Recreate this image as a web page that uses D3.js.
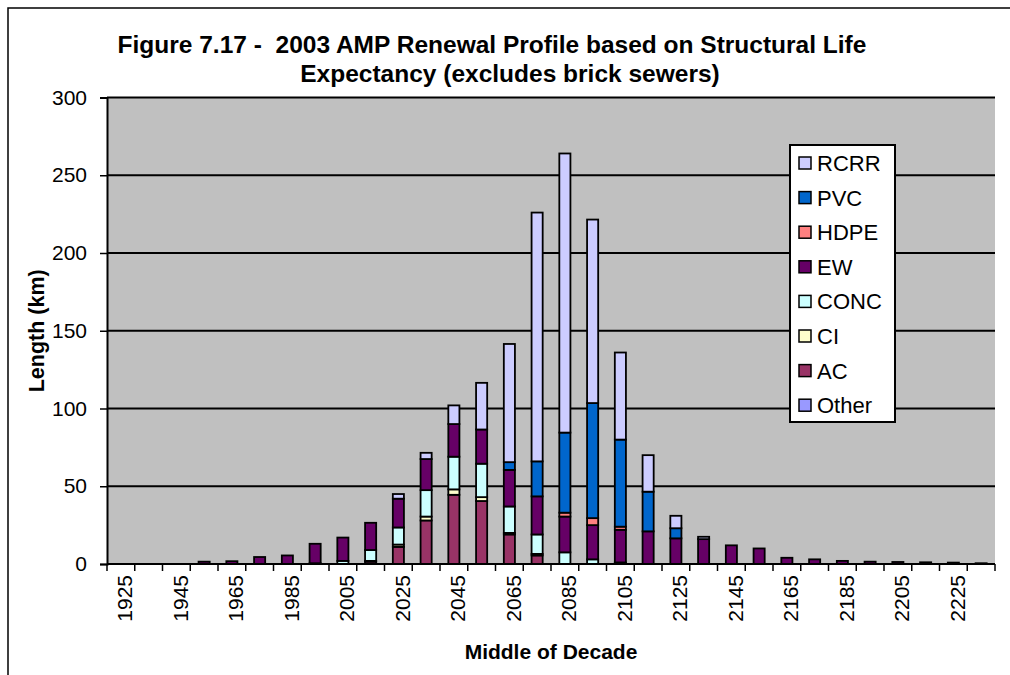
<!DOCTYPE html>
<html>
<head>
<meta charset="utf-8">
<script src="https://cdn.jsdelivr.net/npm/d3@7"></script>
<style>
  body { margin: 0; background: #fff; }
  svg { display: block; font-family: "Liberation Sans", Arial, sans-serif; }
</style>
</head>
<body>
<div id="chart"></div>
<script>
// decades (middle of decade)
const decades = [1925, 1935, 1945, 1955, 1965, 1975, 1985, 1995, 2005, 2015, 2025, 2035, 2045, 2055, 2065, 2075,
                 2085, 2095, 2105, 2115, 2125, 2135, 2145, 2155, 2165, 2175, 2185, 2195, 2205, 2215, 2225, 2235];

// lengths in km
const other = [0, 0, 0, 0, 0, 0, 0, 0, 0, 0, 0, 0, 0, 0, 0, 0, 0, 0, 0, 0, 0, 0, 0, 0, 0, 0, 0, 0, 0, 0, 0, 0];
const ac    = [0, 0, 0, 0, 0, 0, 0, 0.5, 0, 1.5, 11, 28, 44.5, 40.5, 19, 5.5, 0, 0, 0.5, 0, 0, 0, 0, 0, 0, 0, 0, 0, 0, 0, 0, 0];
const ci    = [0, 0, 0, 0, 0, 0, 0, 0, 0, 0.5, 1.5, 2.5, 3.5, 2.5, 1, 1, 0, 0, 0, 0, 0, 0, 0, 0, 0, 0, 0, 0, 0, 0, 0, 0];
const conc  = [0, 0, 0, 0, 0, 0, 0, 0, 2, 7, 11, 17, 21, 21.5, 17, 12.5, 7.5, 3, 0.5, 0, 0, 0, 0, 0, 0, 0, 0, 0, 0, 0, 0, 0];
const ew    = [0, 0, 0, 1.5, 1.8, 4.5, 5.5, 12.5, 15, 17.5, 18.5, 20, 21, 22, 23.5, 24.5, 23, 22, 21, 21, 16.5, 16, 12, 10, 4, 3, 2, 1.5, 1.3, 1.1, 0.9, 0.5];
const hdpe  = [0, 0, 0, 0, 0, 0, 0, 0, 0, 0, 0, 0, 0, 0, 0, 0, 2.5, 4.5, 2, 0, 0, 0, 0, 0, 0, 0, 0, 0, 0, 0, 0, 0];
const pvc   = [0, 0, 0, 0, 0, 0, 0, 0, 0, 0, 0, 0, 0, 0, 5, 22.5, 51.5, 74, 56, 25.5, 6.5, 0, 0, 0, 0, 0, 0, 0, 0, 0, 0, 0];
const rcrr  = [0, 0, 0, 0, 0, 0, 0, 0, 0, 0, 3, 4, 12, 30, 76, 160, 179.5, 118, 56, 23.5, 8, 1.5, 0, 0, 0, 0, 0, 0, 0, 0, 0, 0];

// stacking order, bottom first
const seriesNames = ["Other", "AC", "CI", "CONC", "EW", "HDPE", "PVC", "RCRR"];
const seriesValues = [other, ac, ci, conc, ew, hdpe, pvc, rcrr];
const seriesColors = ["#9999FF", "#993366", "#FFFFCC", "#CCFFFF", "#660066", "#FF8080", "#0066CC", "#CCCCFF"];

const yTicks = [0, 50, 100, 150, 200, 250, 300];

const width = 1010, height = 675;
const plot = { left: 107, right: 995, top: 97.5, bottom: 564 };

const svg = d3.select("#chart").append("svg")
    .attr("width", width)
    .attr("height", height);

// outer frame (right and bottom edges fall outside the picture)
svg.append("rect")
    .attr("x", 8).attr("y", 8)
    .attr("width", 1020).attr("height", 700)
    .attr("fill", "#fff")
    .attr("stroke", "#000")
    .attr("stroke-width", 1.5);

// table for d3.stack
const table = decades.map((d, i) => {
    const row = { decade: d };
    seriesNames.forEach((s, k) => row[s] = seriesValues[k][i]);
    return row;
});

const x = d3.scaleBand()
    .domain(decades)
    .range([plot.left, plot.right])
    .paddingInner(0.6)
    .paddingOuter(0.3);

const y = d3.scaleLinear()
    .domain([0, 300])
    .range([plot.bottom, plot.top]);

const color = d3.scaleOrdinal().domain(seriesNames).range(seriesColors);

// plot background
svg.append("rect")
    .attr("x", plot.left).attr("y", plot.top)
    .attr("width", plot.right - plot.left)
    .attr("height", plot.bottom - plot.top)
    .attr("fill", "#C0C0C0");

// gridlines
svg.append("g")
    .selectAll("line")
    .data(yTicks.filter(d => d > 0))
    .join("line")
    .attr("x1", plot.left).attr("x2", plot.right)
    .attr("y1", d => y(d)).attr("y2", d => y(d))
    .attr("stroke", "#000")
    .attr("stroke-width", 2);

// stacked bars
const stacked = d3.stack().keys(seriesNames)(table);

svg.append("g")
    .selectAll("g")
    .data(stacked)
    .join("g")
    .attr("fill", d => color(d.key))
    .selectAll("rect")
    .data(d => d.filter(p => p[1] - p[0] > 0))
    .join("rect")
    .attr("x", d => x(d.data.decade))
    .attr("width", x.bandwidth())
    .attr("y", d => y(d[1]))
    .attr("height", d => y(d[0]) - y(d[1]))
    .attr("stroke", "#000")
    .attr("stroke-width", 1.8);

// y axis
const yAxis = svg.append("g")
    .attr("transform", `translate(${plot.left},0)`)
    .call(d3.axisLeft(y).tickValues(yTicks).tickSize(7).tickPadding(13));
yAxis.select(".domain").attr("stroke-width", 2);
yAxis.selectAll(".tick line").attr("stroke-width", 1.5);
yAxis.selectAll(".tick text")
    .attr("font-size", 21)
    .attr("font-family", "Liberation Sans, Arial, sans-serif")
    .attr("fill", "#000");

// x axis: ticks between categories, labels every other decade
const step = x.step();
const xAxis = svg.append("g");
xAxis.append("line")
    .attr("x1", plot.left).attr("x2", plot.right)
    .attr("y1", plot.bottom).attr("y2", plot.bottom)
    .attr("stroke", "#000").attr("stroke-width", 2);
xAxis.selectAll("line.tk")
    .data(d3.range(decades.length + 1))
    .join("line")
    .attr("class", "tk")
    .attr("x1", i => plot.left + i * step).attr("x2", i => plot.left + i * step)
    .attr("y1", plot.bottom).attr("y2", plot.bottom + 7)
    .attr("stroke", "#000").attr("stroke-width", 1.5);

xAxis.selectAll("text")
    .data(decades.filter((d, i) => i % 2 === 0))
    .join("text")
    .attr("transform", d => `translate(${x(d) + x.bandwidth() / 2 + 4},${plot.bottom + 11}) rotate(-90)`)
    .attr("text-anchor", "end")
    .attr("dy", "0.35em")
    .attr("font-size", 21)
    .text(d => d);

// titles
const title = svg.append("g")
    .attr("font-weight", "bold")
    .attr("font-size", 24.5)
    .attr("text-anchor", "middle");
title.append("text").attr("x", 492).attr("y", 53)
    .text("Figure 7.17 -\u00a0 2003 AMP Renewal Profile based on Structural Life");
title.append("text").attr("x", 510).attr("y", 82)
    .text("Expectancy (excludes brick sewers)");

svg.append("text")
    .attr("x", 551).attr("y", 659)
    .attr("text-anchor", "middle")
    .attr("font-weight", "bold")
    .attr("font-size", 21)
    .text("Middle of Decade");

svg.append("text")
    .attr("transform", `translate(44,${(plot.top + plot.bottom) / 2}) rotate(-90)`)
    .attr("text-anchor", "middle")
    .attr("font-weight", "bold")
    .attr("font-size", 21.5)
    .text("Length (km)");

// legend, top entry = top of stack
const legendNames = seriesNames.slice().reverse();
const legend = svg.append("g").attr("transform", "translate(790,145)");
legend.append("rect")
    .attr("width", 105).attr("height", 277)
    .attr("fill", "#fff")
    .attr("stroke", "#000")
    .attr("stroke-width", 2);

const item = legend.selectAll("g")
    .data(legendNames)
    .join("g")
    .attr("transform", (d, i) => `translate(0,${18 + i * 34.6})`);

item.append("rect")
    .attr("x", 9).attr("y", -6)
    .attr("width", 12).attr("height", 12)
    .attr("fill", d => color(d))
    .attr("stroke", "#000")
    .attr("stroke-width", 1.5);

item.append("text")
    .attr("x", 27)
    .attr("dy", "0.36em")
    .attr("font-size", 22)
    .text(d => d);
</script>
</body>
</html>
